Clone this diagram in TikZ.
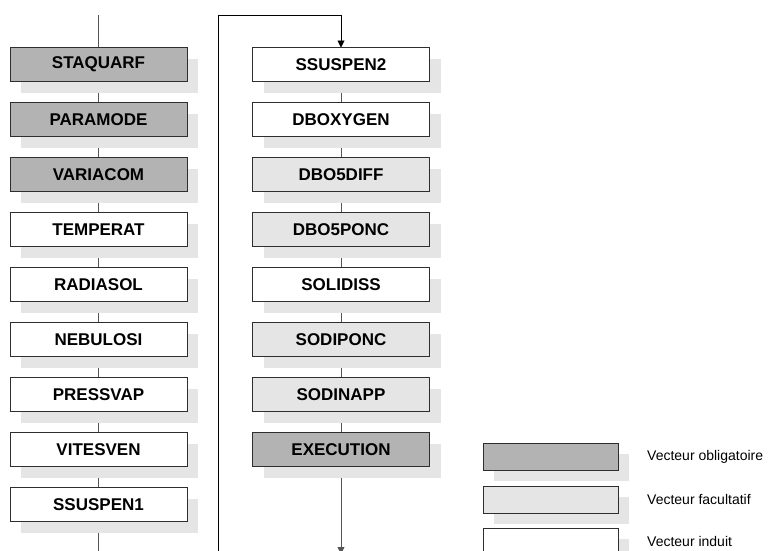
\documentclass[tikz,border=0pt]{standalone}
\usepackage{fontspec}
\setmainfont{Liberation Sans}
\usetikzlibrary{positioning,arrows.meta,shadows,backgrounds}
\definecolor{oblgray}{HTML}{B3B3B3}
\definecolor{facgray}{HTML}{E5E5E5}
\definecolor{shadgray}{HTML}{E5E5E5}
\definecolor{edgegray}{HTML}{2E2E2E}
\definecolor{linkgray}{HTML}{555555}
\tikzset{
  boxshadow/.style={drop shadow={shadow xshift=11pt, shadow yshift=-11pt, fill=shadgray, opacity=1}},
  vecbox/.style={draw=edgegray, line width=0.9pt, minimum width=177pt, minimum height=34pt,
    inner sep=0pt, outer sep=0pt, font=\fontsize{17}{20}\selectfont\bfseries, boxshadow},
  oblig/.style={vecbox, fill=oblgray},
  facul/.style={vecbox, fill=facgray},
  induit/.style={vecbox, fill=white},
  legbox/.style={draw=edgegray, line width=0.9pt, minimum width=135pt, minimum height=27pt,
    inner sep=0pt, outer sep=0pt, boxshadow},
  legtext/.style={inner sep=0pt, anchor=west, font=\fontsize{14}{16}\selectfont},
  link/.style={draw=linkgray, line width=0.8pt},
  loopline/.style={draw=black, line width=0.9pt},
  flow/.style={-{Triangle[width=7pt,length=7pt]}}
}

\begin{document}
\begin{tikzpicture}[x=1pt, y=-1pt]

  \useasboundingbox (0,0) rectangle (770,550);

  % left column
  \foreach \name/\kind/\row in {
    STAQUARF/oblig/0,
    PARAMODE/oblig/1,
    VARIACOM/oblig/2,
    TEMPERAT/induit/3,
    RADIASOL/induit/4,
    NEBULOSI/induit/5,
    PRESSVAP/induit/6,
    VITESVEN/induit/7,
    SSUSPEN1/induit/8}{
    \node[\kind] (left\row) at (98.5,{64.5+55*\row}) {\name};
  }

  % right column
  \foreach \name/\kind/\row in {
    SSUSPEN2/induit/0,
    DBOXYGEN/induit/1,
    DBO5DIFF/facul/2,
    DBO5PONC/facul/3,
    SOLIDISS/induit/4,
    SODIPONC/facul/5,
    SODINAPP/facul/6,
    EXECUTION/oblig/7}{
    \node[\kind] (right\row) at (341,{64.5+55*\row}) {\name};
  }

  % legend
  \node[legbox, fill=oblgray] (legobl) at (550.5,456.5) {};
  \node[legbox, fill=facgray] (legfac) at (550.5,499.5) {};
  \node[legbox, fill=white]   (legind) at (550.5,541.5) {};
  \node[legtext, right=29pt of legobl] (txtobl) {Vecteur obligatoire};
  \node[legtext, right=29pt of legfac] (txtfac) {Vecteur facultatif};
  \node[legtext, right=29pt of legind] (txtind) {Vecteur induit};

  % free ends
  \coordinate (lefttop) at (98.5,15);
  \coordinate (leftend) at (98.5,552);
  \coordinate (loopstart) at (218,552);
  \coordinate (looptop) at (218,15);
  \coordinate (rightend) at (341,554);

  \begin{pgfonlayer}{background}
    \draw[link] (lefttop) -- (left0.north);
    \foreach \i in {0,...,7}{
      \pgfmathtruncatemacro{\j}{\i+1}
      \draw[link] (left\i) -- (left\j);
    }
    \draw[link] (left8) -- (leftend);

    \foreach \i in {0,...,6}{
      \pgfmathtruncatemacro{\j}{\i+1}
      \draw[link] (right\i) -- (right\j);
    }
    \draw[link, flow] (right7.south) -- (rightend);

    \draw[loopline, flow] (loopstart) -- (looptop) -| (right0.north);
  \end{pgfonlayer}

\end{tikzpicture}
\end{document}
